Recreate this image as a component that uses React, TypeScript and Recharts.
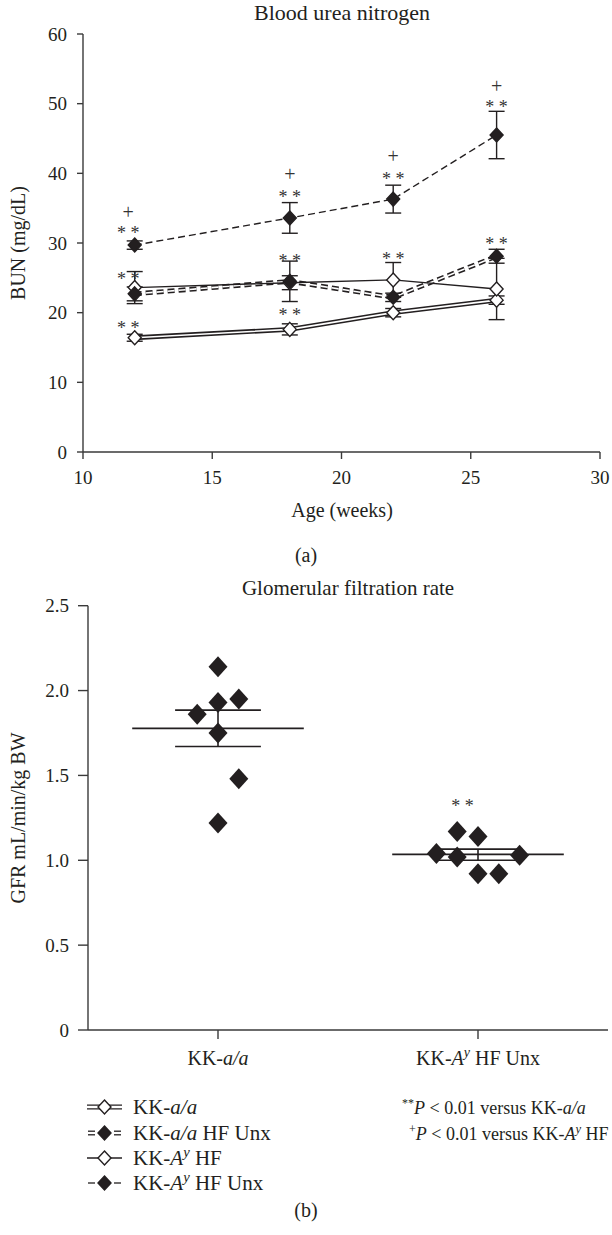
import React from 'react';
import { ComposedChart, Line, Scatter, XAxis, YAxis, ErrorBar, ReferenceLine } from 'recharts';

const FONT = '"Liberation Serif", "Times New Roman", serif';
const INK = '#231f20';
const AXIS = '#3a3a3a';

// (a) blood urea nitrogen
const weeks = [12, 18, 22, 26];
const bunAA = [16.4, 17.6, 20.0, 21.8];
const bunAAErr = [0.5, 0.8, 0.6, 0.6];
const bunAAUnx = [22.7, 24.5, 22.2, 28.1];
const bunAAUnxErr = [1.0, 2.9, 0.6, 1.0];
const bunAyHF = [23.6, 24.3, 24.7, 23.4];
const bunAyHFErr = [2.3, 1.0, 2.5, 4.4];
const bunAyUnx = [29.7, 33.6, 36.3, 45.5];
const bunAyUnxErr = [0.6, 2.2, 2.0, 3.4];
const bunTicksX = [10, 15, 20, 25, 30];
const bunTicksY = [0, 10, 20, 30, 40, 50, 60];

// significance marks on (a)
const bunMarkX = [11.75, 11.75, 11.75, 11.75, 18, 18, 18, 18, 22, 22, 22, 26, 26, 26];
const bunMarkY = [34.3, 31.8, 25.2, 18.2, 39.8, 37.0, 27.8, 20.1, 42.3, 39.6, 28.1, 52.4, 50.0, 30.3];
const bunMarkText = ['+', '**', '**', '**', '+', '**', '**', '**', '+', '**', '**', '+', '**', '**'];

// (b) glomerular filtration rate
const gfrGroups = ['KK-a/a', 'KK-Ay HF Unx'];
const gfrAAx = [0.5, 0.5, 0.58, 0.42, 0.5, 0.58, 0.5];
const gfrAA = [2.14, 1.93, 1.95, 1.86, 1.75, 1.48, 1.22];
const gfrUnxX = [1.42, 1.5, 1.34, 1.42, 1.66, 1.5, 1.58];
const gfrUnx = [1.17, 1.14, 1.04, 1.02, 1.03, 0.92, 0.92];
const gfrMean = [1.777, 1.035];
const gfrSemHi = [1.885, 1.066];
const gfrSemLo = [1.67, 1.0];
const gfrTicksY = [0, 0.5, 1.0, 1.5, 2.0, 2.5];
const gfrMarkX = [1.44];
const gfrMarkY = [1.34];

const legendNames = ['KK-a/a', 'KK-a/a HF Unx', 'KK-Ay HF', 'KK-Ay HF Unx'];

const bunRows = weeks.map((w, i) => ({
  week: w,
  aa: bunAA[i], aaErr: bunAAErr[i],
  aaUnx: bunAAUnx[i], aaUnxErr: bunAAUnxErr[i],
  ayHF: bunAyHF[i], ayHFErr: bunAyHFErr[i],
  ayUnx: bunAyUnx[i], ayUnxErr: bunAyUnxErr[i],
}));
const bunMarks = bunMarkX.map((w, i) => ({ week: w, y: bunMarkY[i], t: bunMarkText[i] }));
const gfrPoints = [
  ...gfrAA.map((v, i) => ({ x: gfrAAx[i], y: v })),
  ...gfrUnx.map((v, i) => ({ x: gfrUnxX[i], y: v })),
];
const gfrMarks = gfrMarkX.map((x, i) => ({ x, y: gfrMarkY[i], t: '**' }));

function richName(name: string, fs: number) {
  const m = name.match(/^(KK-)(a\/a|Ay)(.*)$/);
  if (!m) return [<tspan key="n">{name}</tspan>];
  const out = [<tspan key="p">{m[1]}</tspan>];
  if (m[2] === 'a/a') {
    out.push(<tspan key="i" fontStyle="italic">a/a</tspan>);
    if (m[3]) out.push(<tspan key="r">{m[3]}</tspan>);
  } else {
    const up = Math.round(fs * 0.38);
    out.push(<tspan key="i" fontStyle="italic">A</tspan>);
    out.push(<tspan key="s" fontStyle="italic" fontSize={fs * 0.7} dy={-up}>y</tspan>);
    out.push(<tspan key="r" dy={up}>{m[3]}</tspan>);
  }
  return out;
}

const diamondDot = (filled: boolean) => (props: any) => {
  const { cx, cy, index } = props;
  if (cx == null || cy == null) return <g key={`e${index}`} />;
  const hw = 6.5, hh = 7;
  return (
    <polygon
      key={`d${index}`}
      points={`${cx},${cy - hh} ${cx + hw},${cy} ${cx},${cy + hh} ${cx - hw},${cy}`}
      fill={filled ? INK : '#fff'}
      stroke={INK}
      strokeWidth={1.4}
    />
  );
};

const bigDiamond = (props: any) => {
  const { cx, cy } = props;
  const hw = 9.5, hh = 10.5;
  return <polygon points={`${cx},${cy - hh} ${cx + hw},${cy} ${cx},${cy + hh} ${cx - hw},${cy}`} fill={INK} />;
};

const markText = (props: any) => {
  const { cx, cy } = props;
  const t = props.payload?.t ?? props.t;
  const star = t === '**';
  return (
    <text x={cx} y={cy + (star ? 9 : 6)} textAnchor="middle" fontFamily={FONT} fontSize={star ? 18 : 20} fill="#333" style={{ WebkitFontSmoothing: 'antialiased' }}>
      {star ? '* *' : '+'}
    </text>
  );
};

const GroupTick = (props: any) => {
  const { x, y, payload } = props;
  const name = gfrGroups[Math.floor(payload.value)];
  return (
    <text x={x} y={y + 24} textAnchor="middle" fontFamily={FONT} fontSize={20} fill={INK}>
      {richName(name, 20)}
    </text>
  );
};

const Label = ({ x, y, text, rotate, size = 20 }: any) => (
  <div
    style={{
      position: 'absolute', left: x, top: y, whiteSpace: 'nowrap', fontSize: size, lineHeight: 1,
      color: INK, transform: `translate(-50%,-50%)${rotate ? ' rotate(-90deg)' : ''}`,
    }}
  >
    {text}
  </div>
);

const axisProps = {
  axisLine: { stroke: AXIS, strokeWidth: 1.4 },
  tickLine: { stroke: AXIS, strokeWidth: 1.4 },
  tick: { fill: INK, fontSize: 19, fontFamily: FONT },
};

function LegendSymbol({ i, y }: { i: number; y: number }) {
  const x0 = 87, x1 = 122, c = 104.5;
  const filled = i === 1 || i === 3;
  const dashed = i === 1 || i === 3;
  const double = i === 0 || i === 1;
  const segs = dashed ? [[x0 + 1, x0 + 8], [x1 - 8, x1 - 1]] : [[x0, x1]];
  const offs = double ? [-1.8, 1.8] : [0];
  return (
    <g>
      {segs.map(([a, b], k) =>
        offs.map((o, j) => <line key={`${k}-${j}`} x1={a} x2={b} y1={y + o} y2={y + o} stroke={INK} strokeWidth={1.3} />)
      )}
      <polygon
        points={`${c},${y - 7} ${c + 6.5},${y} ${c},${y + 7} ${c - 6.5},${y}`}
        fill={filled ? INK : '#fff'}
        stroke={INK}
        strokeWidth={1.4}
      />
    </g>
  );
}

export default function App() {
  const rowY = [1107, 1133, 1158, 1183];
  return (
    <div style={{ position: 'absolute', left: 0, top: 0, width: 612, height: 1235, background: '#fff', fontFamily: FONT }}>
      <Label x={342} y={13} text="Blood urea nitrogen" size={22} />
      <Label x={18} y={243} text="BUN (mg/dL)" rotate />
      <Label x={342} y={510} text="Age (weeks)" />
      <Label x={306} y={555} text="(a)" />

      <ComposedChart
        width={612}
        height={530}
        data={bunRows}
        margin={{ top: 34, right: 12, bottom: 50, left: 0 }}
        style={{ position: 'absolute', left: 0, top: 0, fontFamily: FONT }}
      >
        <XAxis type="number" dataKey="week" domain={[10, 30]} ticks={bunTicksX} height={28} tickSize={7} tickMargin={12} {...axisProps} />
        <YAxis type="number" domain={[0, 60]} ticks={bunTicksY} width={83} tickSize={6} tickMargin={10} {...axisProps} />

        <Line dataKey="aa" stroke={INK} strokeWidth={4.8} dot={false} isAnimationActive={false} />
        <Line dataKey="aa" stroke="#fff" strokeWidth={1.6} dot={false} isAnimationActive={false} />
        <Line dataKey="aaUnx" stroke={INK} strokeWidth={4.8} strokeDasharray="7 4" dot={false} isAnimationActive={false} />
        <Line dataKey="aaUnx" stroke="#fff" strokeWidth={1.6} strokeDasharray="7 4" dot={false} isAnimationActive={false} />
        <Line dataKey="ayHF" stroke={INK} strokeWidth={1.4} dot={false} isAnimationActive={false} />
        <Line dataKey="ayUnx" stroke={INK} strokeWidth={1.4} strokeDasharray="7 4" dot={false} isAnimationActive={false} />

        <Line dataKey="aa" stroke="none" dot={diamondDot(false)} isAnimationActive={false}>
          <ErrorBar dataKey="aaErr" width={8} stroke={INK} strokeWidth={1.4} direction="y" />
        </Line>
        <Line dataKey="ayHF" stroke="none" dot={diamondDot(false)} isAnimationActive={false}>
          <ErrorBar dataKey="ayHFErr" width={8} stroke={INK} strokeWidth={1.4} direction="y" />
        </Line>
        <Line dataKey="aaUnx" stroke="none" dot={diamondDot(true)} isAnimationActive={false}>
          <ErrorBar dataKey="aaUnxErr" width={8} stroke={INK} strokeWidth={1.4} direction="y" />
        </Line>
        <Line dataKey="ayUnx" stroke="none" dot={diamondDot(true)} isAnimationActive={false}>
          <ErrorBar dataKey="ayUnxErr" width={8} stroke={INK} strokeWidth={1.4} direction="y" />
        </Line>

        <Scatter data={bunMarks} dataKey="y" shape={markText} isAnimationActive={false} />
      </ComposedChart>

      <Label x={348} y={588} text="Glomerular filtration rate" size={21} />
      <Label x={18} y={818} text="GFR mL/min/kg BW" rotate />

      <ComposedChart
        width={612}
        height={530}
        data={gfrPoints}
        margin={{ top: 35.7, right: 4, bottom: 40, left: 0 }}
        style={{ position: 'absolute', left: 0, top: 570, fontFamily: FONT }}
      >
        <XAxis type="number" dataKey="x" domain={[0, 2]} ticks={[0.5, 1.5]} height={30} tickSize={9} tick={<GroupTick />} axisLine={axisProps.axisLine} tickLine={axisProps.tickLine} />
        <YAxis type="number" dataKey="y" domain={[0, 2.5]} ticks={gfrTicksY} width={88} tickSize={10} tickMargin={9} tickFormatter={(v: number) => (v === 0 ? '0' : v.toFixed(1))} {...axisProps} />

        {gfrMean.map((m, i) => {
          const c = i + 0.5;
          return (
            <React.Fragment key={i}>
              <ReferenceLine segment={[{ x: c - 0.33, y: m }, { x: c + 0.33, y: m }]} stroke={INK} strokeWidth={1.6} />
              <ReferenceLine segment={[{ x: c - 0.165, y: gfrSemHi[i] }, { x: c + 0.165, y: gfrSemHi[i] }]} stroke={INK} strokeWidth={1.6} />
              <ReferenceLine segment={[{ x: c - 0.165, y: gfrSemLo[i] }, { x: c + 0.165, y: gfrSemLo[i] }]} stroke={INK} strokeWidth={1.6} />
              <ReferenceLine segment={[{ x: c, y: gfrSemLo[i] }, { x: c, y: gfrSemHi[i] }]} stroke={INK} strokeWidth={1.6} />
            </React.Fragment>
          );
        })}

        <Scatter data={gfrPoints} dataKey="y" shape={bigDiamond} isAnimationActive={false} />
        <Scatter data={gfrMarks} dataKey="y" shape={markText} isAnimationActive={false} />
      </ComposedChart>

      <svg width={612} height={1235} style={{ position: 'absolute', left: 0, top: 0, pointerEvents: 'none' }}>
        {legendNames.map((n, i) => (
          <g key={n}>
            <LegendSymbol i={i} y={rowY[i]} />
            <text x={133} y={rowY[i] + 7} fontFamily={FONT} fontSize={21} fill={INK}>
              {richName(n, 21)}
            </text>
          </g>
        ))}
        <text x={402} y={rowY[0] + 7} fontFamily={FONT} fontSize={18} fill={INK}>
          <tspan fontSize={12} dy={-7}>**</tspan>
          <tspan fontStyle="italic" dy={7}>P</tspan>
          <tspan>{' < 0.01 versus '}</tspan>
          {richName('KK-a/a', 18)}
        </text>
        <text x={409} y={rowY[1] + 7} fontFamily={FONT} fontSize={18} fill={INK}>
          <tspan fontSize={12} dy={-7}>+</tspan>
          <tspan fontStyle="italic" dy={7}>P</tspan>
          <tspan>{' < 0.01 versus '}</tspan>
          {richName('KK-Ay HF', 18)}
        </text>
      </svg>
      <Label x={306} y={1210} text="(b)" />
    </div>
  );
}
